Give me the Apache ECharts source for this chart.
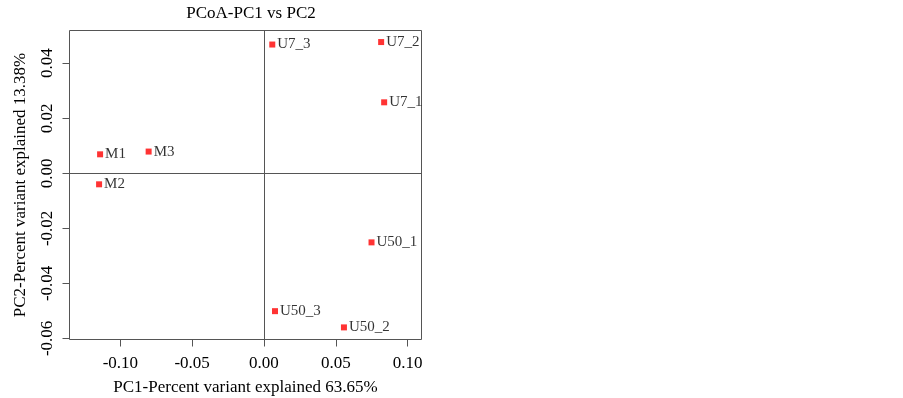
<!DOCTYPE html>
<html><head><meta charset="utf-8">
<script src="https://cdn.jsdelivr.net/npm/echarts@6/dist/echarts.min.js"></script>
<style>html,body{margin:0;padding:0;background:#fff}#c{width:903px;height:398px}</style>
</head><body><div id="c"></div>
<script>
const sampleNames = ['M1','M2','M3','U7_1','U7_2','U7_3','U50_1','U50_2','U50_3'];
const pc1Values = [-0.1141, -0.1148, -0.0803, 0.0837, 0.0816, 0.0058, 0.0749, 0.0557, 0.0077];
const pc2Values = [0.0069, -0.0040, 0.0079, 0.0258, 0.0477, 0.0468, -0.0251, -0.0560, -0.0501];
const xTicks = [-0.10, -0.05, 0.00, 0.05, 0.10];
const yTicks = [-0.06, -0.04, -0.02, 0.00, 0.02, 0.04];
const titleText = 'PCoA-PC1 vs PC2';
const xName = 'PC1-Percent variant explained 63.65%';
const yName = 'PC2-Percent variant explained 13.38%';

const font = 'Liberation Serif';
const chart = echarts.init(document.getElementById('c'));
const data = sampleNames.map((n, i) => ({name: n, value: [pc1Values[i], pc2Values[i]]}));
chart.setOption({
  animation: false,
  title: {text: titleText, left: 246, top: 0, textAlign: 'center',
    textStyle: {fontFamily: font, fontWeight: 'normal', fontSize: 17, color: '#000'}},
  grid: {left: 69.5, top: 30.5, right: 481.5, bottom: 58.5, outerBoundsMode: 'none', containLabel: false,
    show: true, borderColor: '#555', borderWidth: 1, backgroundColor: 'transparent'},
  xAxis: {type: 'value', min: -0.1354, max: 0.1097,
    name: xName, nameLocation: 'middle', nameGap: 40,
    nameTextStyle: {fontFamily: font, fontSize: 17, color: '#000'},
    axisLine: {show: false, onZero: false}, splitLine: {show: false},
    axisTick: {show: true, length: 7, customValues: xTicks, lineStyle: {color: '#555'}},
    axisLabel: {customValues: xTicks, margin: 16, fontFamily: font, fontSize: 17, color: '#000',
      formatter: v => v.toFixed(2)}},
  yAxis: {type: 'value', min: -0.0604, max: 0.0519,
    name: yName, nameLocation: 'middle', nameGap: 40,
    nameTextStyle: {fontFamily: font, fontSize: 17, color: '#000'},
    axisLine: {show: false, onZero: false}, splitLine: {show: false},
    axisTick: {show: true, length: 7, customValues: yTicks, lineStyle: {color: '#555'}},
    axisLabel: {customValues: yTicks, rotate: 90, margin: 13, fontFamily: font, fontSize: 17, color: '#000',
      formatter: v => v.toFixed(2)}},
  series: [{
    type: 'scatter', symbol: 'rect', symbolSize: 6,
    itemStyle: {color: '#ff0000'},
    label: {show: true, position: 'right', distance: 2, formatter: '{b}',
      fontFamily: font, fontSize: 15, color: '#000'},
    data: data,
    markLine: {silent: true, symbol: 'none', label: {show: false},
      lineStyle: {color: '#555', width: 1, type: 'solid'},
      data: [{xAxis: 0}, {yAxis: 0}]}
  }]
});
</script></body></html>
